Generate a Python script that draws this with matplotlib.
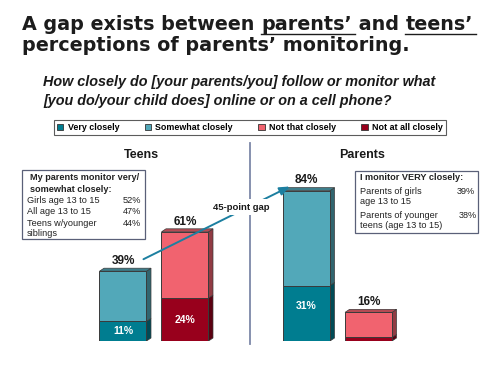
import matplotlib
matplotlib.use("Agg")
import matplotlib.pyplot as plt
from matplotlib.patches import Rectangle, Polygon, Patch
from matplotlib.colors import to_rgb

# ---------------- data ----------------
groups = ["Teens", "Parents"]
very_closely = [11, 31]
somewhat_closely = [28, 53]
not_that_closely = [37, 14]
not_at_all_closely = [24, 2]
legend_labels = ["Very closely", "Somewhat closely", "Not that closely", "Not at all closely"]
colors = ["#007D90", "#52A8B9", "#F1636F", "#98001C"]

title_parts = [("A gap exists between ", False), ("parents\u2019", True), (" and ", False), ("teens\u2019", True)]
title_line2 = "perceptions of parents\u2019 monitoring."
subtitle_lines = ["How closely do [your parents/you] follow or monitor what",
                  "[you do/your child does] online or on a cell phone?"]

teens_box_title = ["My parents monitor very/", "somewhat closely:"]
teens_box_labels = [["Girls age 13 to 15"], ["All age 13 to 15"], ["Teens w/younger", "siblings"]]
teens_box_values = ["52%", "47%", "44%"]
parents_box_title = "I monitor VERY closely:"
parents_box_labels = [["Parents of girls", "age 13 to 15"], ["Parents of younger", "teens (age 13 to 15)"]]
parents_box_values = ["39%", "38%"]
gap_label = "45-point gap"

# ---------------- figure ----------------
W, H = 502, 378
fig = plt.figure(figsize=(W / 100, H / 100), dpi=100)
fig.patch.set_facecolor("white")

# bar axes: baseline at y=341 px, 1.79 px per percent
ax = fig.add_axes([0, 37 / H, 1, 179 / H])
unit = 62.0
ax.set_xlim(-123 / unit, (W - 123) / unit)
ax.set_ylim(0, 100)
ax.axis("off")

positions = [[0.0, 1.0], [2.96, 3.96]]
bw = 47 / unit
dx, dy = 4.5 / unit, 3.0 / 1.79
edge = "#3a3a3a"


def darker(c, f=0.7):
    r, g, b = to_rgb(c)
    return (r * f, g * f, b * f)


def draw_stack(x, segs):
    bottom = 0
    x0, x1 = x - bw / 2, x + bw / 2
    for val, col in segs:
        top = bottom + val
        ax.bar(x, val, bw, bottom=bottom, color=col, edgecolor=edge, linewidth=0.7, zorder=3)
        ax.add_patch(Polygon([(x1, bottom), (x1 + dx, bottom + dy), (x1 + dx, top + dy), (x1, top)],
                             closed=True, facecolor=darker(col, 0.6), edgecolor=edge, linewidth=0.5, zorder=2))
        bottom = top
    col = segs[-1][1]
    ax.add_patch(Polygon([(x0, bottom), (x0 + dx, bottom + dy), (x1 + dx, bottom + dy), (x1, bottom)],
                         closed=True, facecolor=darker(col, 0.75), edgecolor=edge, linewidth=0.5, zorder=2))
    return bottom


label_font = dict(family="Liberation Sans", fontweight="bold")
for g in range(2):
    pc, pn = positions[g]
    tot_c = draw_stack(pc, [(very_closely[g], colors[0]), (somewhat_closely[g], colors[1])])
    tot_n = draw_stack(pn, [(not_at_all_closely[g], colors[3]), (not_that_closely[g], colors[2])])
    ax.annotate(f"{tot_c}%", (pc, tot_c), xytext=(0, 3), textcoords="offset points",
                ha="center", va="bottom", fontsize=8.5, color="#1a1a1a", **label_font)
    ax.annotate(f"{tot_n}%", (pn, tot_n), xytext=(0, 3), textcoords="offset points",
                ha="center", va="bottom", fontsize=8.5, color="#1a1a1a", **label_font)
    if very_closely[g] >= 5:
        ax.text(pc, very_closely[g] / 2 + (4 if g == 1 else 0), f"{very_closely[g]}%", ha="center", va="center",
                fontsize=7.5, color="white", **label_font)
    if not_at_all_closely[g] >= 5:
        ax.text(pn, not_at_all_closely[g] / 2, f"{not_at_all_closely[g]}%", ha="center", va="center",
                fontsize=7.5, color="white", **label_font)

# gap arrow from teens closely label to parents closely label
t_c = very_closely[0] + somewhat_closely[0]
p_c = very_closely[1] + somewhat_closely[1]
ax.annotate("", xy=(positions[1][0] - 0.23, p_c + 3), xytext=(positions[0][0] + 0.29, t_c + 6),
            arrowprops=dict(arrowstyle="-|>,head_length=0.6,head_width=0.25", color="#1C7FA0", lw=1.4),
            zorder=5)

# overlay axes in pixel coordinates
ov = fig.add_axes([0, 0, 1, 1], zorder=10)
ov.set_xlim(0, W)
ov.set_ylim(H, 0)
ov.axis("off")
ov.patch.set_alpha(0)

# title
renderer = fig.canvas.get_renderer()
tfont = dict(family="DejaVu Sans", fontweight="bold", fontsize=13.8, color="#1c1c1c")
x = 22
for txt, ul in title_parts:
    t = ov.text(x, 29.5, txt, ha="left", va="baseline", **tfont)
    bb = t.get_window_extent(renderer)
    if ul:
        ov.plot([x, x + bb.width + 3], [33.5, 33.5], color="#1c1c1c", lw=1.0)
    x += bb.width
ov.text(22, 51, title_line2, ha="left", va="baseline", **tfont)

sfont = dict(family="Liberation Sans", fontweight="bold", fontstyle="italic", fontsize=10.4, color="#1a1a1a")
ov.text(43, 86, subtitle_lines[0], ha="left", va="baseline", **sfont)
ov.text(43, 104.5, subtitle_lines[1], ha="left", va="baseline", **sfont)

# legend
handles = [Patch(facecolor=c, edgecolor="#333333", linewidth=0.6) for c in colors]
leg = fig.legend(handles, legend_labels, ncol=4, loc="lower left",
                 bbox_to_anchor=(50 / W, 1 - 139 / H, 400 / W, 18 / H), mode="expand",
                 frameon=True, fancybox=False, edgecolor="#333333", borderpad=0.3,
                 handlelength=0.7, handleheight=0.7, handletextpad=0.5, columnspacing=0.5,
                 prop=dict(family="Liberation Sans", weight="bold", size=6.4))
leg.get_frame().set_linewidth(0.8)

# divider & headings
ov.plot([250, 250], [143, 344], color="#7D88A8", lw=1.3)
ov.text(141, 155, groups[0], ha="center", va="center", family="Liberation Sans", fontweight="bold",
        fontsize=9, color="#1a1a1a")
ov.text(362, 155, groups[1], ha="center", va="center", family="Liberation Sans", fontweight="bold",
        fontsize=9, color="#1a1a1a")

bfont = dict(family="Liberation Sans", fontsize=6.6, color="#222222")

# teens box
ov.add_patch(Rectangle((22, 170), 123, 69, facecolor="white", edgecolor="#5A6078", lw=0.9))
ov.text(30, 177, teens_box_title[0], ha="left", va="center", fontweight="bold", **bfont)
ov.text(30, 189, teens_box_title[1], ha="left", va="center", fontweight="bold", **bfont)
rows_y = [200.5, 212, 224]
for labs, val, yy in zip(teens_box_labels, teens_box_values, rows_y):
    for k, lab in enumerate(labs):
        ov.text(27, yy + 9 * k, lab, ha="left", va="center", **bfont)
    ov.text(141, yy, val, ha="right", va="center", **bfont)

# parents box
ov.add_patch(Rectangle((355, 171), 123, 62, facecolor="white", edgecolor="#5A6078", lw=0.9))
ov.text(360, 178, parents_box_title, ha="left", va="center", fontweight="bold", **bfont)
rows_y = [192, 216]
for labs, val, yy in zip(parents_box_labels, parents_box_values, rows_y):
    for k, lab in enumerate(labs):
        ov.text(360, yy + 10 * k, lab, ha="left", va="center", **bfont)
    ov.text(475 + (2 if yy > 200 else 0), yy, val, ha="right", va="center", **bfont)

# gap label
ov.text(241, 207, gap_label, ha="center", va="center", family="Liberation Sans", fontweight="bold",
        fontsize=6.8, color="#1a1a1a",
        bbox=dict(boxstyle="square,pad=0.35", facecolor="white", edgecolor="none"))

fig.savefig("out.png", dpi=100, facecolor="white")
